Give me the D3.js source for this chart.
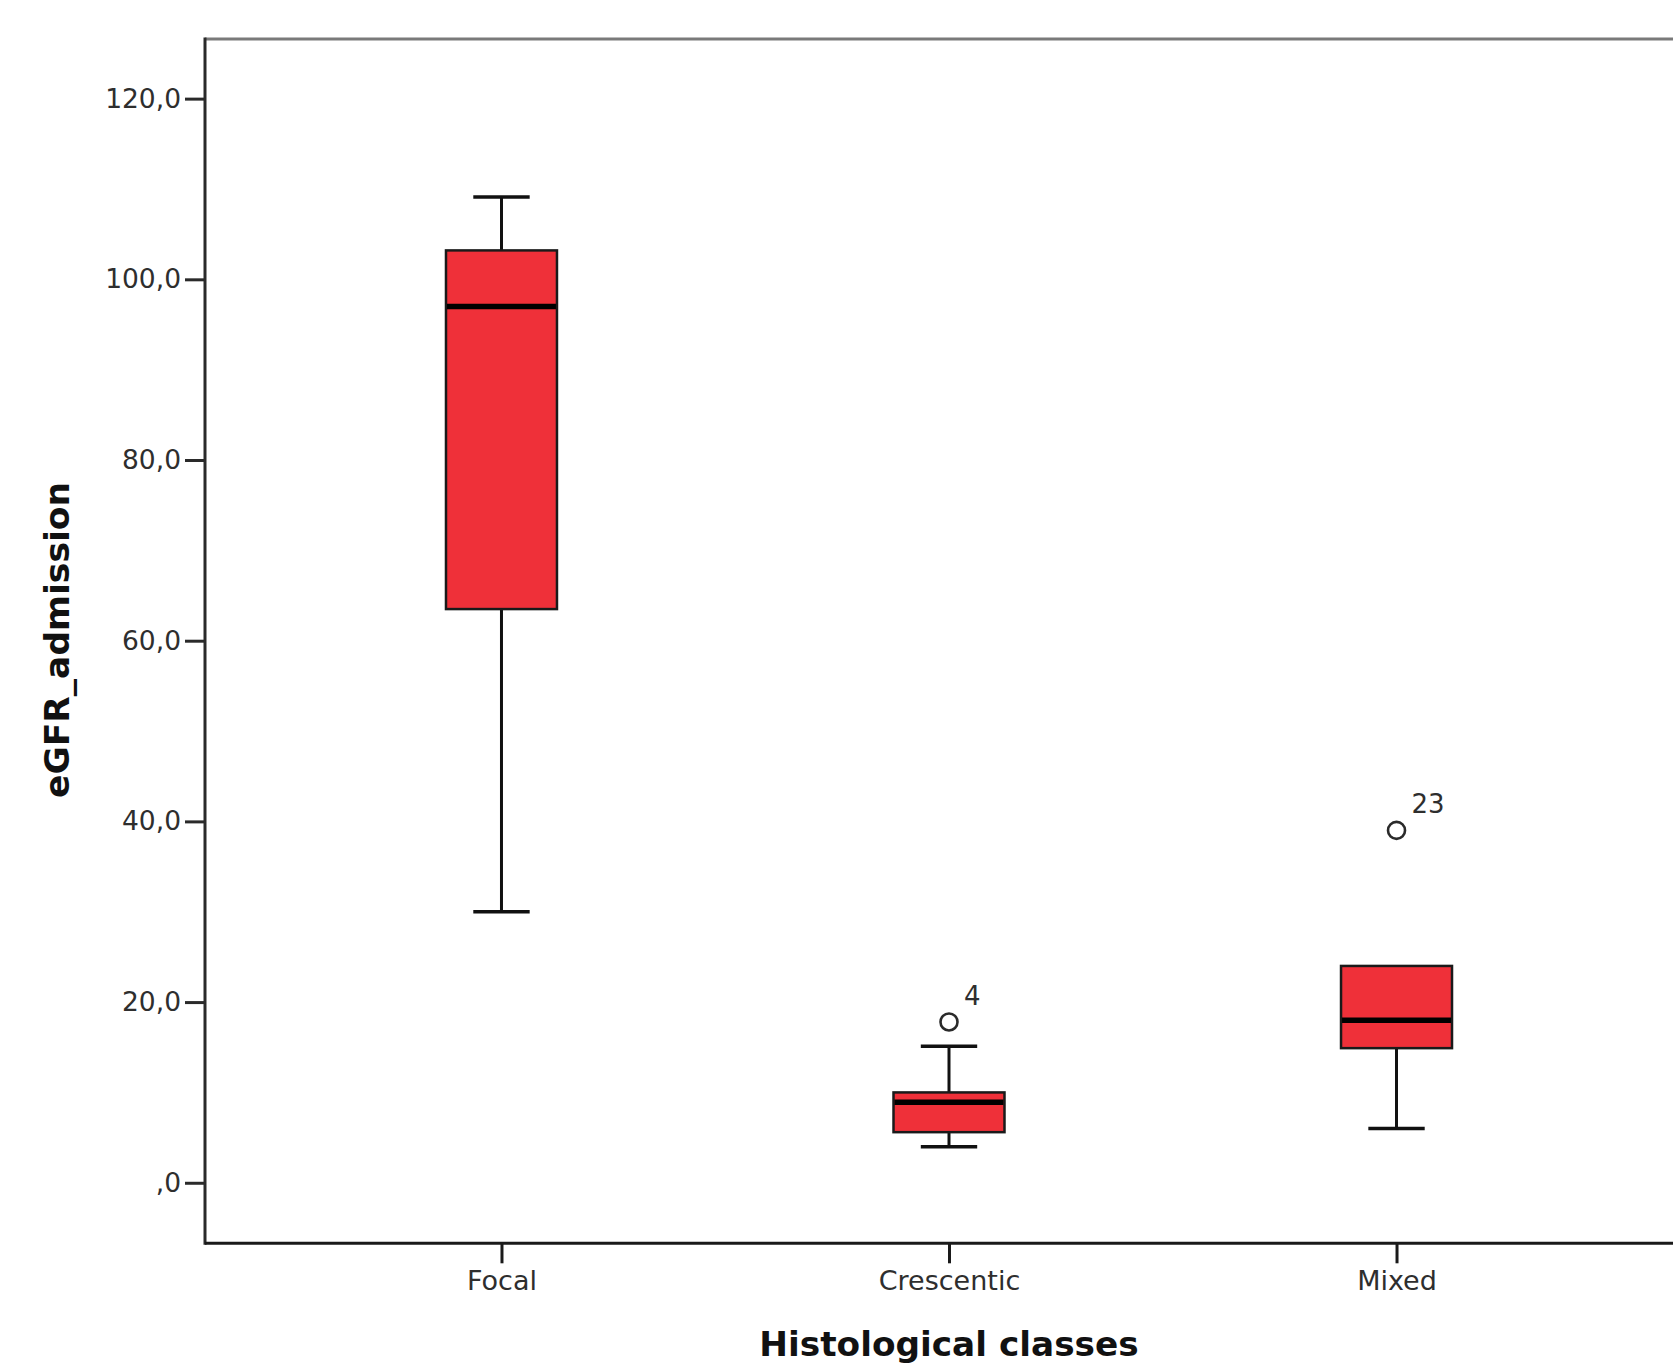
<!DOCTYPE html>
<html>
<head>
<meta charset="utf-8">
<script src="https://cdn.jsdelivr.net/npm/d3@7"></script>
<style>
  html, body { margin: 0; padding: 0; background: #fff; }
  svg { display: block; }
</style>
</head>
<body>
<svg id="chart" width="1673" height="1369"></svg>
<script>
// ---- data ----
const categories   = ["Focal", "Crescentic", "Mixed"];
const whiskerLow   = [30.0, 4.0, 6.0];
const q1           = [63.5, 5.6, 14.9];
const median       = [97.0, 8.9, 18.0];
const q3           = [103.2, 10.0, 24.0];
const whiskerHigh  = [109.1, 15.1, 24.0];
const outlierCat   = ["Crescentic", "Mixed"];
const outlierValue = [17.8, 39.0];
const outlierLabel = ["4", "23"];
const yTicks       = [0, 20, 40, 60, 80, 100, 120];
const yTickLabels  = [",0", "20,0", "40,0", "60,0", "80,0", "100,0", "120,0"];
const yTitle = "eGFR_admission";
const xTitle = "Histological classes";

// ---- layout ----
const plotLeft = 205, plotRight = 1693, plotTop = 39, plotBottom = 1243.3;
const svg = d3.select("#chart");

const x = d3.scalePoint().domain(categories).range([plotLeft, plotRight]).padding(0.6625);
const y = d3.scaleLinear().domain([-6.7, 126.6]).range([plotBottom, plotTop]);
const boxW = x.step() * 0.248;
const capW = x.step() * 0.126;

const tickFont = "'DejaVu Sans', Verdana, sans-serif";
const textColor = "#2e2e2e";

// top frame line (gray)
svg.append("line").attr("x1", plotLeft).attr("x2", 1673).attr("y1", plotTop).attr("y2", plotTop)
  .attr("stroke", "#7a7a7a").attr("stroke-width", 3);

// y axis
const yAxis = d3.axisLeft(y).tickValues(yTicks)
  .tickFormat((d, i) => yTickLabels[i]).tickSize(20).tickPadding(4);
const gy = svg.append("g").attr("transform", `translate(${plotLeft},0)`).call(yAxis);
gy.select(".domain").remove();
gy.selectAll(".tick line").attr("stroke", "#2a2a2a").attr("stroke-width", 3);
gy.selectAll(".tick text").attr("font-family", tickFont).attr("font-size", 26.5)
  .attr("fill", textColor);
svg.append("line").attr("x1", plotLeft).attr("x2", plotLeft).attr("y1", plotTop - 1.5).attr("y2", plotBottom + 1.5)
  .attr("stroke", "#2a2a2a").attr("stroke-width", 3);

// x axis
const xAxis = d3.axisBottom(x).tickSize(20).tickPadding(8);
const gx = svg.append("g").attr("transform", `translate(0,${plotBottom})`).call(xAxis);
gx.select(".domain").remove();
gx.selectAll(".tick line").attr("stroke", "#1a1a1a").attr("stroke-width", 3);
gx.selectAll(".tick text").attr("font-family", tickFont).attr("font-size", 27)
  .attr("fill", textColor);
svg.append("line").attr("x1", plotLeft).attr("x2", 1673).attr("y1", plotBottom).attr("y2", plotBottom)
  .attr("stroke", "#1a1a1a").attr("stroke-width", 3);

// boxes
const boxes = categories.map((c, i) => ({
  c, lo: whiskerLow[i], q1: q1[i], med: median[i], q3: q3[i], hi: whiskerHigh[i]
}));
const g = svg.append("g");
const stroke = "#111";

boxes.forEach(b => {
  const cx = x(b.c);
  if (b.hi > b.q3) {
    g.append("line").attr("x1", cx).attr("x2", cx).attr("y1", y(b.q3)).attr("y2", y(b.hi))
      .attr("stroke", stroke).attr("stroke-width", 3);
    g.append("line").attr("x1", cx - capW / 2).attr("x2", cx + capW / 2)
      .attr("y1", y(b.hi)).attr("y2", y(b.hi)).attr("stroke", stroke).attr("stroke-width", 3.5);
  }
  if (b.lo < b.q1) {
    g.append("line").attr("x1", cx).attr("x2", cx).attr("y1", y(b.q1)).attr("y2", y(b.lo))
      .attr("stroke", stroke).attr("stroke-width", 3);
    g.append("line").attr("x1", cx - capW / 2).attr("x2", cx + capW / 2)
      .attr("y1", y(b.lo)).attr("y2", y(b.lo)).attr("stroke", stroke).attr("stroke-width", 3.5);
  }
  g.append("rect").attr("x", cx - boxW / 2).attr("y", y(b.q3))
    .attr("width", boxW).attr("height", y(b.q1) - y(b.q3))
    .attr("fill", "#ef3039").attr("stroke", "#1a1a1a").attr("stroke-width", 2.5);
  g.append("line").attr("x1", cx - boxW / 2 + 1).attr("x2", cx + boxW / 2 - 1)
    .attr("y1", y(b.med)).attr("y2", y(b.med)).attr("stroke", "#000").attr("stroke-width", 5.5);
});

// outliers
outlierCat.forEach((c, i) => {
  const cx = x(c), cy = y(outlierValue[i]);
  g.append("circle").attr("cx", cx).attr("cy", cy).attr("r", 8.5)
    .attr("fill", "none").attr("stroke", "#2a2a2a").attr("stroke-width", 2.6);
  g.append("text").attr("x", cx + 15).attr("y", cy - 17)
    .attr("font-family", tickFont).attr("font-size", 26).attr("fill", textColor)
    .text(outlierLabel[i]);
});

// axis titles
const titleFont = "'DejaVu Sans', Verdana, sans-serif";
svg.append("text").attr("x", x("Crescentic")).attr("y", 1356)
  .attr("text-anchor", "middle").attr("font-family", titleFont)
  .attr("font-weight", "bold").attr("font-size", 34.3).attr("fill", "#111")
  .text(xTitle);
svg.append("text").attr("transform", "translate(69,640) rotate(-90)")
  .attr("text-anchor", "middle").attr("font-family", titleFont)
  .attr("font-weight", "bold").attr("font-size", 34.5).attr("fill", "#111")
  .text(yTitle);
</script>
</body>
</html>
